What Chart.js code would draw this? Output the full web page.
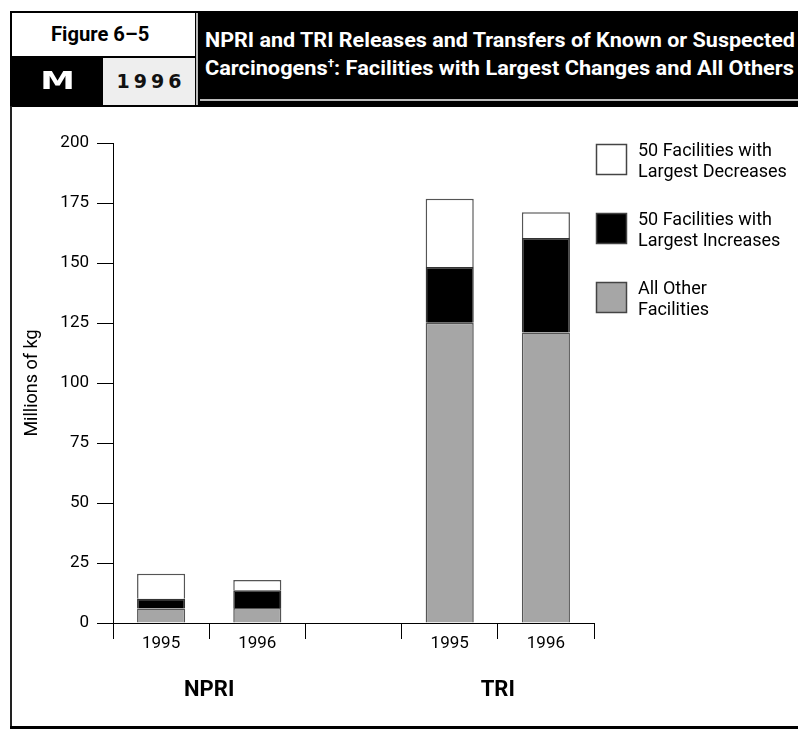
<!DOCTYPE html>
<html>
<head>
<meta charset="utf-8">
<script src="https://cdn.jsdelivr.net/npm/chart.js@4"></script>
<style>
  html, body { margin: 0; padding: 0; background: #fff; }
  body { width: 798px; height: 729px; position: relative; overflow: hidden;
         font-family: Roboto, 'Liberation Sans', sans-serif; }
  #chart { position: absolute; left: 0; top: 0; }
  .abs { position: absolute; box-sizing: border-box; }
  #hdr { left: 10px; top: 11px; width: 788px; height: 96px; background: #000; }
  #fig { left: 12px; top: 13px; width: 183px; height: 43px; background: #fff; }
  #figText { left: 51px; top: 24px; font-weight: bold; font-size: 21px; line-height: 21px;
             color: #000; white-space: nowrap; transform-origin: 0 0; }
  #mbox { left: 12px; top: 58px; width: 91px; height: 47px; color: #fff;
          font-family: 'DejaVu Sans', sans-serif; font-weight: bold; font-size: 24px;
          text-align: center; line-height: 47px; transform: scaleX(1.45); }
  #year { left: 103px; top: 58px; width: 92px; height: 47px; background: #eee;
          font-family: 'DejaVu Sans', sans-serif; font-weight: bold; font-size: 19px;
          letter-spacing: 4px; text-align: center; line-height: 47px; color: #111; padding-left: 4px; }
  #vsep { left: 196px; top: 13px; width: 2px; height: 92px; background: #bbb; }
  .tline { left: 205px; color: #fff; font-weight: bold; font-size: 20px; line-height: 20px;
           white-space: nowrap; transform-origin: 0 0; }
  #t1 { top: 30px; }
  #t2 { top: 58px; }
  .tline sup { font-size: 11px; vertical-align: 8px; line-height: 0; }
  #hsep { left: 200px; top: 99px; width: 598px; height: 2px; background: #bbb; }
  #lframe { left: 10px; top: 106px; width: 2px; height: 623px; background: #222; }
  #bframe { left: 10px; top: 726px; width: 788px; height: 3px; background: #000; }
</style>
</head>
<body>
<canvas id="chart" width="798" height="729"></canvas>
<div class="abs" id="hdr"></div>
<div class="abs" id="fig"></div>
<div class="abs" id="figText" data-w="98">Figure 6–5</div>
<div class="abs" id="mbox">M</div>
<div class="abs" id="year">1996</div>
<div class="abs" id="vsep"></div>
<div class="abs tline" id="t1" data-w="590">NPRI and TRI Releases and Transfers of Known or Suspected</div>
<div class="abs tline" id="t2" data-w="589">Carcinogens<sup>†</sup>: Facilities with Largest Changes and All Others</div>
<div class="abs" id="hsep"></div>
<div class="abs" id="lframe"></div>
<div class="abs" id="bframe"></div>
<script>
// Data (millions of kg)
const categories = ['1995', '1996', '', '1995', '1996'];
const groupNames = ['NPRI', 'TRI'];
const groupSlots = [[0, 1], [3, 4]];
const otherFacilities = [6.0, 6.2, null, 125.1, 121.0];
const largestIncreases = [4.1, 7.4, null, 23.2, 39.4];
const largestDecreases = [10.4, 4.3, null, 28.5, 10.7];
const yMax = 200;
const yStep = 25;

const FONT = "Roboto, 'Liberation Sans', sans-serif";

// squeeze the condensed header text to the width it has in the figure
document.querySelectorAll('[data-w]').forEach(el => {
    el.style.transform = 'scaleX(' + (el.dataset.w / el.scrollWidth) + ')';
});

// Legend drawn at the right, top to bottom: decreases, increases, others
const legendPlugin = {
    id: 'sideLegend',
    afterDraw(chart) {
        const ctx = chart.ctx;
        const order = [2, 1, 0];
        ctx.save();
        order.forEach((di, i) => {
            const ds = chart.data.datasets[di];
            const x = 596, y = 144 + i * 69;
            ctx.fillStyle = ds.backgroundColor;
            ctx.fillRect(x, y, 31, 31);
            ctx.strokeStyle = '#444';
            ctx.lineWidth = 1.5;
            ctx.strokeRect(x + 0.5, y + 0.5, 30, 30);
            ctx.fillStyle = '#000';
            ctx.font = '18px ' + FONT;
            ctx.textBaseline = 'middle';
            ctx.textAlign = 'left';
            ds.legendLines.forEach((t, k) => ctx.fillText(t, 638, y + 7.5 + k * 20.5));
        });
        ctx.restore();
    }
};

// Group names under the year labels
const groupPlugin = {
    id: 'groupLabels',
    afterDraw(chart) {
        const ctx = chart.ctx;
        const xs = chart.scales.x;
        ctx.save();
        ctx.font = 'bold 22px ' + FONT;
        ctx.fillStyle = '#000';
        ctx.textAlign = 'center';
        ctx.textBaseline = 'middle';
        groupNames.forEach((g, i) => {
            const [a, b] = groupSlots[i];
            const cx = (xs.getPixelForValue(a) + xs.getPixelForValue(b)) / 2;
            ctx.fillText(g, cx, 690);
        });
        ctx.restore();
    }
};

new Chart(document.getElementById('chart').getContext('2d'), {
    type: 'bar',
    data: {
        labels: categories,
        datasets: [{
            label: 'All Other Facilities',
            legendLines: ['All Other', 'Facilities'],
            data: otherFacilities,
            backgroundColor: '#a6a6a6',
            borderColor: '#555',
            borderWidth: 1.5
        }, {
            label: '50 Facilities with Largest Increases',
            legendLines: ['50 Facilities with', 'Largest Increases'],
            data: largestIncreases,
            backgroundColor: '#000',
            borderColor: '#333',
            borderWidth: 1.5
        }, {
            label: '50 Facilities with Largest Decreases',
            legendLines: ['50 Facilities with', 'Largest Decreases'],
            data: largestDecreases,
            backgroundColor: '#fff',
            borderColor: '#555',
            borderWidth: 1.5
        }]
    },
    options: {
        responsive: false,
        animation: false,
        layout: { padding: { left: 12, top: 143, right: 204, bottom: 0 } },
        datasets: { bar: { barPercentage: 0.5, categoryPercentage: 1 } },
        plugins: {
            legend: { display: false },
            tooltip: { enabled: false }
        },
        scales: {
            x: {
                stacked: true,
                afterFit: s => { s.height = 106; },
                grid: { offset: true, drawOnChartArea: false, tickLength: 16, color: '#000', lineWidth: 1 },
                border: { color: '#000', width: 1 },
                ticks: { color: '#000', font: { family: FONT, size: 17 }, padding: -5, maxRotation: 0 }
            },
            y: {
                stacked: true,
                min: 0,
                max: yMax,
                afterFit: s => { s.width = 101; },
                grid: { drawOnChartArea: false, tickLength: 16, color: '#000', lineWidth: 1 },
                border: { color: '#000', width: 1 },
                ticks: { stepSize: yStep, color: '#000', font: { family: FONT, size: 17 }, padding: 8 },
                title: {
                    display: true,
                    text: 'Millions of kg',
                    color: '#000',
                    font: { family: FONT, size: 18 },
                    padding: { top: 10, bottom: 0 }
                }
            }
        }
    },
    plugins: [legendPlugin, groupPlugin]
});
</script>
</body>
</html>
